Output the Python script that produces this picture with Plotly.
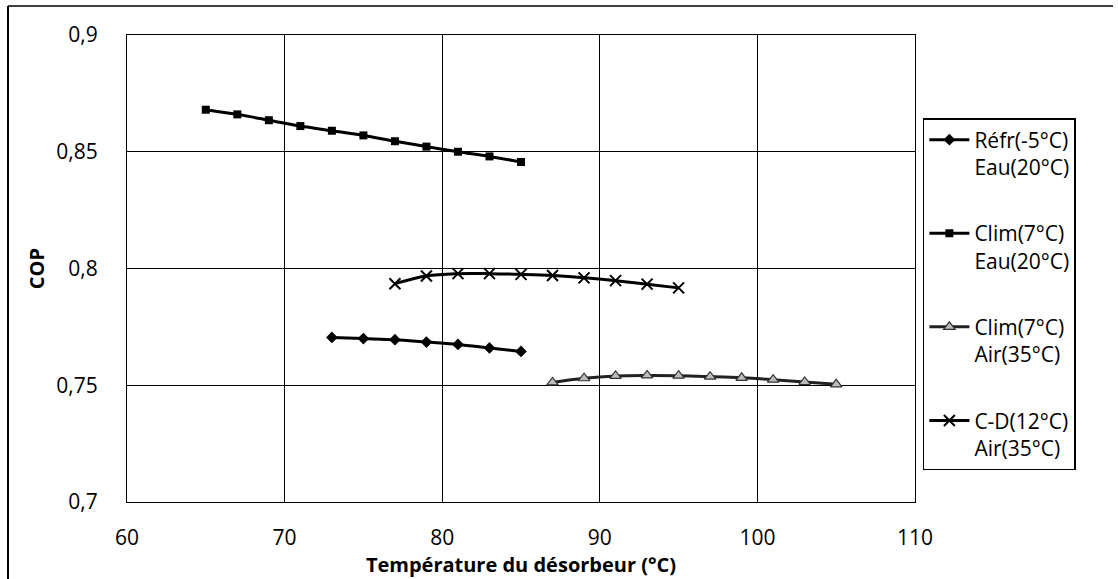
import plotly.graph_objects as go

# Desorber temperature (°C) and COP for each operating mode
t_refr = [73, 75, 77, 79, 81, 83, 85]
cop_refr = [0.7705, 0.7700, 0.7695, 0.7685, 0.7675, 0.7660, 0.7645]

t_clim_eau = [65, 67, 69, 71, 73, 75, 77, 79, 81, 83, 85]
cop_clim_eau = [0.8680, 0.8660, 0.8635, 0.8610, 0.8590, 0.8570, 0.8545, 0.8522, 0.8500, 0.8480, 0.8456]

t_clim_air = [87, 89, 91, 93, 95, 97, 99, 101, 103, 105]
cop_clim_air = [0.7512, 0.7530, 0.7540, 0.7542, 0.7541, 0.7537, 0.7532, 0.7524, 0.7514, 0.7504]

t_cd_air = [77, 79, 81, 83, 85, 87, 89, 91, 93, 95]
cop_cd_air = [0.7935, 0.7968, 0.7978, 0.7978, 0.7975, 0.7970, 0.7960, 0.7948, 0.7933, 0.7917]

names = ["Réfr(-5°C)<br>Eau(20°C)", "Clim(7°C)<br>Eau(20°C)",
         "Clim(7°C)<br>Air(35°C)", "C-D(12°C)<br>Air(35°C)"]

x_ticks = [60, 70, 80, 90, 100, 110]
y_ticks = [0.7, 0.75, 0.8, 0.85, 0.9]

FONT = "Open Sans"
TICK_SIZE = 21

fig = go.Figure()
fig.add_trace(go.Scatter(
    x=t_refr, y=cop_refr, name=names[0], legendgroup="a", mode="lines+markers",
    line=dict(color="black", width=3, shape="spline"),
    marker=dict(symbol="diamond", size=9, color="black")))
fig.add_trace(go.Scatter(
    x=t_clim_eau, y=cop_clim_eau, name=names[1], legendgroup="b", mode="lines+markers",
    line=dict(color="black", width=3, shape="spline"),
    marker=dict(symbol="square", size=8, color="black")))
fig.add_trace(go.Scatter(
    x=t_clim_air, y=cop_clim_air, name=names[2], legendgroup="c", mode="lines+markers",
    line=dict(color="#222222", width=3, shape="spline"),
    marker=dict(symbol="triangle-up", size=10, color="#bbbbbb",
                line=dict(color="#333333", width=1.2))))
fig.add_trace(go.Scatter(
    x=t_cd_air, y=cop_cd_air, name=names[3], legendgroup="d", mode="lines+markers",
    line=dict(color="black", width=3, shape="spline"),
    marker=dict(symbol="x-thin", size=11, color="black",
                line=dict(color="black", width=2))))

fig.update_layout(
    width=1118, height=579,
    margin=dict(l=127, r=203, t=35, b=77),
    paper_bgcolor="white", plot_bgcolor="white",
    separators=", ",
    font=dict(family=FONT, size=TICK_SIZE, color="black"),
    showlegend=True,
    legend=dict(x=1.010, y=(502 - 118) / 467, xanchor="left", yanchor="top",
                bordercolor="black", borderwidth=1.5, bgcolor="white",
                font=dict(family=FONT, size=21, color="black"),
                tracegroupgap=36, itemwidth=40, valign="top"),
    shapes=[
        # outer chart frame (left and top edges)
        dict(type="line", xref="paper", yref="paper",
             x0=(8 - 127) / 788, x1=(8 - 127) / 788,
             y0=(502 - 579) / 467, y1=(502 - 6) / 467,
             line=dict(color="black", width=2), layer="below"),
        dict(type="line", xref="paper", yref="paper",
             x0=(8 - 127) / 788, x1=(1113 - 127) / 788,
             y0=(502 - 6) / 467, y1=(502 - 6) / 467,
             line=dict(color="black", width=1.5), layer="below"),
    ],
)
fig.update_xaxes(
    range=[60, 110], tickvals=x_ticks, showgrid=True, gridcolor="black",
    gridwidth=1, showline=True, linecolor="black", linewidth=1, mirror=True,
    ticks="", zeroline=False, ticklabelstandoff=17,
    tickfont=dict(family=FONT, size=TICK_SIZE),
    title=dict(text="<b>Température du désorbeur (°C)</b>", standoff=0,
               font=dict(family=FONT, size=20)))
fig.update_yaxes(
    range=[0.7, 0.9], tickvals=y_ticks, showgrid=True, gridcolor="black",
    gridwidth=1, showline=True, linecolor="black", linewidth=1, mirror=True,
    ticks="", zeroline=False, ticklabelstandoff=24,
    tickfont=dict(family=FONT, size=TICK_SIZE),
    title=dict(text="<b>COP</b>", standoff=6, font=dict(family=FONT, size=20)))

fig.write_html("out.html")
